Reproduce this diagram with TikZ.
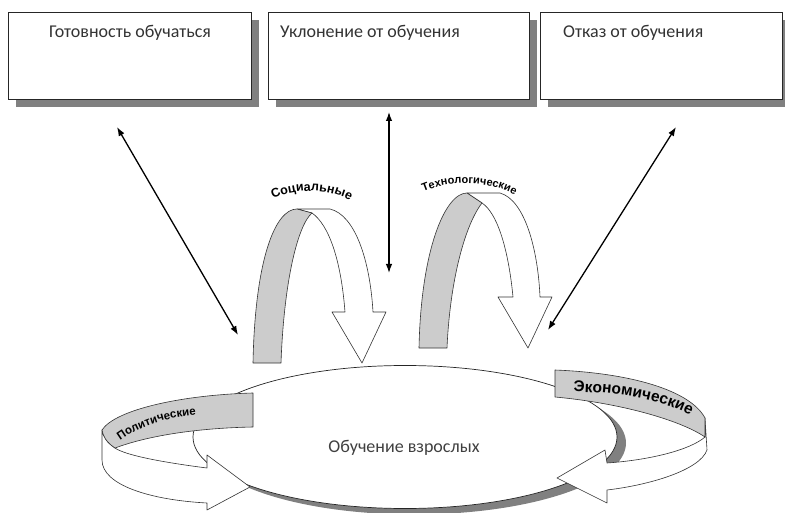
\documentclass[tikz,border=0pt]{standalone}
\usepackage{fontspec}
\setmainfont{Carlito}
\newfontfamily\ribbonfont{Liberation Sans}
\usetikzlibrary{arrows.meta, shapes.geometric, shadows, decorations.text}

\begin{document}
\begin{tikzpicture}[x=1pt, y=-1pt,
		box/.style={rectangle, draw=black!85, fill=white, line width=0.8pt, minimum height=87pt,
			drop shadow={shadow xshift=8pt, shadow yshift=-8pt, fill=black!50, opacity=1}},
		boxtext/.style={font=\fontsize{18}{21}\selectfont, text=black!80, inner sep=0pt},
		link/.style={{Latex[length=9pt,width=6.5pt]}-{Latex[length=9pt,width=6.5pt]}, line width=1.3pt},
		ribbon/.style={draw=black!80, line width=0.6pt, fill=white, line join=round},
		inside/.style={draw=black!80, line width=0.6pt, fill=black!20, line join=round},
		bent/.style 2 args={decorate, decoration={text along path, text align=center,
			text={|\ribbonfont\bfseries\fontsize{#1}{#1}\selectfont|#2}}}]
		\useasboundingbox (0,0) rectangle (785,513);
		
		%Boxes
		\node[box, minimum width=243pt] (ready) at (129.5,55.5) {};
		\node[box, minimum width=261pt] (evade) at (398.5,55.5) {};
		\node[box, minimum width=242pt] (refuse) at (661,55.5) {};
		\node[boxtext, anchor=north] (readytxt) at (130,25) {Готовность обучаться};
		\node[boxtext, anchor=north west] (evadetxt) at (280,25) {Уклонение от обучения};
		\node[boxtext, anchor=north west] (refusetxt) at (563,25) {Отказ от обучения};
		
		%Ellipse
		\node[ellipse, draw=black!85, fill=white, line width=0.7pt, minimum width=424pt, minimum height=143pt,
			drop shadow={shadow xshift=9pt, shadow yshift=-6pt, fill=black!50, opacity=1}] (adult) at (405,437) {};
		\node[boxtext, text=black!75] (adulttxt) at (404,448) {Обучение взрослых};
		
		%Links
		\coordinate (r1) at (117,127);
		\coordinate (r2) at (238,335);
		\coordinate (e1) at (389,112);
		\coordinate (e2) at (389,273);
		\coordinate (f1) at (676,127);
		\coordinate (f2) at (548,330);
		\draw[link] (r1) -- (r2);
		\draw[link] (e1) -- (e2);
		\draw[link] (f1) -- (f2);
		
		%Social
		\draw[ribbon] (297,209) -- (330,209) .. controls (355,215) and (370,260) .. (373,312) -- (386,312)
			-- (362,363) -- (332,312) -- (345,312) .. controls (341,260) and (329,225) .. (312,213) -- cycle;
		\draw[inside] (253,363) .. controls (255,260) and (275,209) .. (297,209) -- (312,213)
			.. controls (298,225) and (284,280) .. (281,363) -- cycle;
		\path[bent={12.5}{Социальные}] (268,202) .. controls (290,187) and (332,187) .. (355,204);
		
		%Technology
		\draw[ribbon] (467,193) -- (500,193) .. controls (525,200) and (538,250) .. (540,297) -- (552,297)
			-- (528,348) -- (498,297) -- (513,297) .. controls (508,245) and (496,212) .. (482,203) -- cycle;
		\draw[inside] (419,348) .. controls (421,250) and (445,193) .. (467,193) -- (482,203)
			.. controls (465,225) and (450,280) .. (447,348) -- cycle;
		\path[bent={11}{Технологические}] (416,195) .. controls (445,179) and (492,179) .. (522,199);
		
		%Politics
		\draw[ribbon] (102,430) -- (102,460) .. controls (102,485) and (150,500) .. (207,503) -- (207,510)
			-- (250,487) -- (207,455) -- (207,468) .. controls (160,462) and (125,455) .. (115,448)
			.. controls (106,442) and (103,436) .. (102,430) -- cycle;
		\draw[inside] (253,393) .. controls (180,395) and (115,410) .. (102,430)
			.. controls (103,436) and (106,442) .. (115,448) .. controls (150,435) and (200,428) .. (253,427) -- cycle;
		\path[bent={11.5}{Политические}] (111,448) .. controls (135,426) and (170,415) .. (208,415);
		
		%Economy
		\draw[ribbon] (705,418) -- (707,450) .. controls (700,470) and (650,485) .. (607,490) -- (607,503)
			-- (557,478) -- (605,450) -- (607,463) .. controls (650,460) and (690,450) .. (705,437) -- cycle;
		\draw[inside] (555,370) .. controls (630,373) and (690,390) .. (705,418) -- (705,437)
			.. controls (680,420) and (620,403) .. (555,397) -- cycle;
		\path[bent={15.5}{Экономические}] (566,392) .. controls (610,391) and (662,398) .. (697,419);
	\end{tikzpicture}
\end{document}
